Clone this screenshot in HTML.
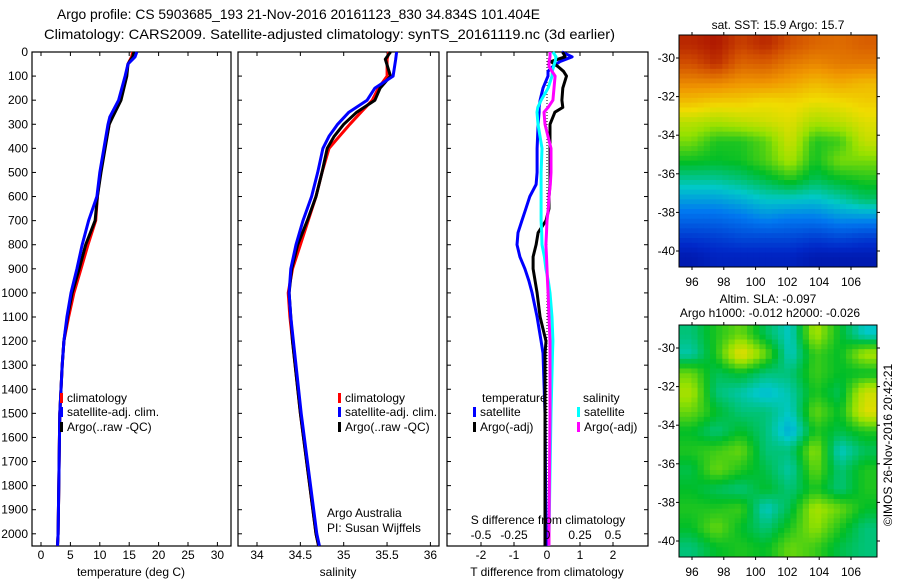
<!DOCTYPE html>
<html><head><meta charset="utf-8">
<style>
html,body{margin:0;padding:0;background:#fff;}
svg{display:block;font-family:"Liberation Sans",sans-serif;}
</style></head>
<body>
<svg id="fig" width="900" height="580" viewBox="0 0 900 580" xmlns="http://www.w3.org/2000/svg">
<rect width="900" height="580" fill="#fff"/>
<text x="57" y="19" font-size="14" textLength="483" lengthAdjust="spacingAndGlyphs">Argo profile: CS 5903685_193 21-Nov-2016 20161123_830 34.834S 101.404E</text>
<text x="44" y="39" font-size="14" textLength="571" lengthAdjust="spacingAndGlyphs">Climatology: CARS2009. Satellite-adjusted climatology: synTS_20161119.nc (3d earlier)</text>
<g id="layer"></g>
</svg>
<script>
// ---------- Data ----------
const depthT = [0,20,50,100,200,270,300,400,500,600,700,800,900,1000,1100,1200,1300,1500,2000,2050];
const tempClim = [15.6,15.4,14.8,14.4,13.5,12.0,11.6,10.8,10.1,9.6,9.3,8.0,6.8,5.6,4.7,3.9,3.6,3.2,2.9,2.8];
const tempSat  = [16.3,16.0,14.8,14.3,13.2,11.7,11.4,10.7,10.0,9.5,8.1,7.0,6.1,5.1,4.4,3.9,3.6,3.2,2.9,2.8];
const tempArgo = [15.8,15.6,14.8,14.6,13.6,12.2,11.6,10.9,10.2,9.6,9.2,7.6,6.5,5.3,4.5,3.9,3.6,3.2,2.9,2.8];

const depthS = [0,30,100,150,200,250,300,350,400,500,600,700,800,900,1000,1100,1200,1500,2000,2050];
const salClim = [35.52,35.50,35.50,35.40,35.33,35.20,35.07,34.95,34.83,34.75,34.68,34.59,34.50,34.41,34.36,34.38,34.41,34.50,34.68,34.71];
const salSat  = [35.61,35.60,35.57,35.36,35.27,35.06,34.93,34.83,34.76,34.70,34.63,34.53,34.45,34.39,34.37,34.39,34.42,34.51,34.69,34.72];
const salArgo = [35.54,35.48,35.54,35.42,35.36,35.15,35.00,34.89,34.81,34.75,34.68,34.58,34.47,34.40,34.37,34.39,34.41,34.50,34.68,34.71];

const depthD = [0,20,40,60,80,100,150,200,230,250,300,400,500,550,600,650,700,750,800,850,900,950,1000,1100,1200,1250,1500,2000,2050];
const tdiffSat  = [0.45,0.76,0.39,0.18,0.03,0.03,-0.12,-0.21,-0.24,-0.24,-0.27,-0.30,-0.30,-0.33,-0.52,-0.64,-0.76,-0.88,-0.91,-0.82,-0.67,-0.55,-0.45,-0.30,-0.18,-0.12,-0.06,-0.03,-0.03];
const tdiffArgo = [0.48,0.55,0.12,0.33,0.50,0.59,0.48,0.45,0.48,0.24,0.09,0.09,0.09,0.09,0.06,0.06,-0.03,-0.27,-0.33,-0.42,-0.42,-0.36,-0.30,-0.21,-0.03,-0.06,-0.06,-0.06,-0.06];
const sdiffSat  = [0.045,0.068,0.061,0.050,0.040,0.038,0.008,-0.045,-0.070,-0.076,-0.068,-0.038,-0.045,-0.045,-0.045,-0.045,-0.045,-0.040,-0.038,-0.020,-0.008,0.010,0.023,0.038,0.045,0.042,0.030,0.015,0.015];
const sdiffArgo = [0.023,0.023,0.015,0.015,0.038,0.061,0.053,0.045,0.008,-0.023,-0.015,0.030,0.030,0.025,0.015,0.010,0.000,-0.004,-0.008,-0.004,0.000,0.004,0.008,0.015,0.023,0.023,0.023,0.015,0.015];

const depthTicks = [0,100,200,300,400,500,600,700,800,900,1000,1100,1200,1300,1400,1500,1600,1700,1800,1900,2000];
const tempTicks = [0,5,10,15,20,25,30];
const salTicks = [34,34.5,35,35.5,36];
const salTickLabels = ["34","34.5","35","35.5","36"];
const tdiffTicks = [-2,-1,0,1,2];
const sdiffTicks = [-0.5,-0.25,0,0.25,0.5];
const sdiffTickLabels = ["-0.5","-0.25","0","0.25","0.5"];
const lonTicks = [96,98,100,102,104,106];
const latTicks = [-30,-32,-34,-36,-38,-40];

// SST map grid (colormap fraction, rows north->south)
const sstGrid = [
[0.95,0.97,0.92,0.95,0.90,0.87,0.86,0.88],
[0.90,0.94,0.87,0.88,0.84,0.82,0.84,0.84],
[0.82,0.82,0.80,0.80,0.78,0.75,0.77,0.75],
[0.74,0.72,0.72,0.70,0.71,0.69,0.70,0.72],
[0.64,0.62,0.64,0.66,0.68,0.62,0.64,0.68],
[0.58,0.52,0.52,0.56,0.66,0.52,0.54,0.65],
[0.51,0.50,0.51,0.55,0.62,0.51,0.58,0.58],
[0.43,0.43,0.45,0.48,0.52,0.47,0.50,0.52],
[0.35,0.35,0.37,0.40,0.40,0.39,0.42,0.46],
[0.27,0.27,0.29,0.32,0.30,0.30,0.33,0.33],
[0.18,0.19,0.21,0.21,0.21,0.19,0.21,0.19],
[0.10,0.13,0.13,0.13,0.13,0.10,0.10,0.10]];
const slaGrid = [
[0.45,0.52,0.57,0.47,0.40,0.62,0.50,0.40],
[0.42,0.52,0.70,0.57,0.40,0.54,0.50,0.62],
[0.57,0.47,0.50,0.45,0.45,0.54,0.50,0.50],
[0.62,0.45,0.42,0.38,0.42,0.52,0.47,0.66],
[0.57,0.50,0.45,0.45,0.40,0.57,0.50,0.68],
[0.50,0.45,0.50,0.45,0.36,0.52,0.48,0.52],
[0.52,0.54,0.57,0.45,0.45,0.60,0.40,0.47],
[0.48,0.57,0.52,0.48,0.42,0.57,0.45,0.52],
[0.50,0.47,0.45,0.50,0.45,0.52,0.45,0.52],
[0.52,0.52,0.54,0.40,0.48,0.62,0.57,0.50],
[0.50,0.57,0.50,0.45,0.52,0.60,0.52,0.45],
[0.45,0.50,0.52,0.50,0.57,0.54,0.48,0.45]];

// ---------- Helpers ----------
const NS='http://www.w3.org/2000/svg';
const layer=document.getElementById('layer');
function mk(tag,attrs,parent){const e=document.createElementNS(NS,tag);for(const k in attrs)e.setAttribute(k,attrs[k]);(parent||layer).appendChild(e);return e;}
function txt(x,y,s,size,anchor,parent){const t=mk('text',{x:x,y:y,'font-size':size||12,'text-anchor':anchor||'start'},parent);t.textContent=s;return t;}

const PT=52, PB=546;
const yD=d=>PT+d*0.2409;
const xT=v=>41+v*5.88;
const xS=v=>257+(v-34)*86.7;
const xTD=v=>547+v*33;
const xSD=v=>547+v*132;

function panel(x0,x1,name){
  const g=mk('g',{});
  
  
  mk('rect',{x:x0,y:PT,width:x1-x0,height:PB-PT,fill:'none',stroke:'#000','stroke-width':1.2},g);
  for(const d of depthTicks){const y=yD(d);
    const l=mk('line',{x1:x0,x2:x0+4,y1:y,y2:y,stroke:'#000'},g);
    
    
  }
  return g;
}
function series(g,depths,vals,xf,color,name,w){
  const pts=[];
  for(let i=0;i<depths.length;i++){
    pts.push(xf(vals[i]).toFixed(1)+','+yD(depths[i]).toFixed(1));
  }
  const p=mk('polyline',{points:pts.join(' '),fill:'none',stroke:color,'stroke-width':w||3,'stroke-linejoin':'round'},g);
  
  
}
function legend(g,x,y,color,label,name){
  const r=mk('rect',{x:x,y:y-9,width:3,height:10,fill:color},g);
  
  
  const t=txt(x+7,y,label,12,'start',g);
  
  
}

// ---------- Panel 1: temperature ----------
const g1=panel(32,231,'temperature-panel');
for(const d of depthTicks){const t=txt(28,yD(d)+4,String(d),12,'end',g1);
  
  }
for(const v of tempTicks){const x=xT(v);
  mk('line',{x1:x,x2:x,y1:PB,y2:PB-4,stroke:'#000'},g1);
  mk('line',{x1:x,x2:x,y1:PT,y2:PT+4,stroke:'#000'},g1);
  const t=txt(x,559,String(v),12,'middle',g1);
  
  }
series(g1,depthT,tempClim,xT,'#f00','temperature-climatology-line');
series(g1,depthT,tempArgo,xT,'#000','temperature-argo-line');
series(g1,depthT,tempSat,xT,'#00f','temperature-satellite-line');
legend(g1,60,402,'#f00','climatology','legend-climatology');
legend(g1,60,416,'#00f','satellite-adj. clim.','legend-satellite');
legend(g1,60,431,'#000','Argo(..raw -QC)','legend-argo');
{const t=txt(131,576,'temperature (deg C)',12,'middle',g1);

}

// ---------- Panel 2: salinity ----------
const g2=panel(238,439,'salinity-panel');
salTicks.forEach((v,i)=>{const x=xS(v);
  mk('line',{x1:x,x2:x,y1:PB,y2:PB-4,stroke:'#000'},g2);
  mk('line',{x1:x,x2:x,y1:PT,y2:PT+4,stroke:'#000'},g2);
  const t=txt(x,559,salTickLabels[i],12,'middle',g2);
  
  });
series(g2,depthS,salClim,xS,'#f00','salinity-climatology-line');
series(g2,depthS,salArgo,xS,'#000','salinity-argo-line');
series(g2,depthS,salSat,xS,'#00f','salinity-satellite-line');
legend(g2,338,402,'#f00','climatology','legend-climatology');
legend(g2,338,416,'#00f','satellite-adj. clim.','legend-satellite');
legend(g2,338,431,'#000','Argo(..raw -QC)','legend-argo');
{let t=txt(327,517,'Argo Australia',12,'start',g2);


t=txt(327,532,'PI: Susan Wijffels',12,'start',g2);


t=txt(338,576,'salinity',12,'middle',g2);

}

// ---------- Panel 3: differences ----------
const g3=panel(447,648,'difference-panel');
for(const d of depthTicks){const y=yD(d);mk('line',{x1:644,x2:648,y1:y,y2:y,stroke:'#000'},g3);}
tdiffTicks.forEach(v=>{const x=xTD(v);
  mk('line',{x1:x,x2:x,y1:PB,y2:PB-4,stroke:'#000'},g3);
  mk('line',{x1:x,x2:x,y1:PT,y2:PT+4,stroke:'#000'},g3);
  const t=txt(x,559,String(v),12,'middle',g3);
  
  });
{const z=mk('line',{x1:xTD(0),x2:xTD(0),y1:PT,y2:PB,stroke:'#000','stroke-dasharray':'1,2'},g3);

}
series(g3,depthD,tdiffSat,xTD,'#00f','tdiff-satellite-line');
series(g3,depthD,tdiffArgo,xTD,'#000','tdiff-argo-line');
series(g3,depthD,sdiffSat,xSD,'#0ff','sdiff-satellite-line');
series(g3,depthD,sdiffArgo,xSD,'#f0f','sdiff-argo-line');
{const t=txt(482,402,'temperature',12,'start',g3);


const s=txt(583,402,'salinity',12,'start',g3);

}
legend(g3,473,416,'#00f','satellite','legend-temp-satellite');
legend(g3,473,431,'#000','Argo(-adj)','legend-temp-argo');
legend(g3,577,416,'#0ff','satellite','legend-sal-satellite');
legend(g3,577,431,'#f0f','Argo(-adj)','legend-sal-argo');
{let t=txt(548,524,'S difference from climatology',12,'middle',g3);


sdiffTicks.forEach((v,i)=>{const l=txt(xSD(v),539,sdiffTickLabels[i],12,'middle',g3);
  
  });
t=txt(547,576,'T difference from climatology',12,'middle',g3);

}

// ---------- Maps ----------
const cmapStops=[[0,[0,0,130]],[0.15,[0,40,200]],[0.3,[0,120,240]],[0.4,[0,200,200]],[0.5,[0,190,40]],[0.6,[150,225,0]],[0.7,[240,220,0]],[0.8,[240,150,0]],[0.9,[210,80,0]],[1,[160,0,0]]];
function cmap(v){
  v=Math.max(0,Math.min(1,v));
  for(let i=1;i<cmapStops.length;i++){
    if(v<=cmapStops[i][0]){const a=cmapStops[i-1],b=cmapStops[i];const f=(v-a[0])/(b[0]-a[0]);
      const c=a[1].map((x,k)=>Math.round(x+(b[1][k]-x)*f));return `rgb(${c[0]},${c[1]},${c[2]})`;}
  }
  return 'rgb(160,0,0)';
}
function sample(grid,fr,fc){
  const R=grid.length-1,C=grid[0].length-1;
  fr=Math.max(0,Math.min(R,fr));fc=Math.max(0,Math.min(C,fc));
  const r0=Math.floor(fr),c0=Math.floor(fc),r1=Math.min(R,r0+1),c1=Math.min(C,c0+1);
  const dr=fr-r0,dc=fc-c0;
  return grid[r0][c0]*(1-dr)*(1-dc)+grid[r0][c1]*(1-dr)*dc+grid[r1][c0]*dr*(1-dc)+grid[r1][c1]*dr*dc;
}
const MX0=679,MX1=877;
const lonX=l=>692+(l-96)*15.9;
function map(top,bottom,grid,name){
  const g=mk('g',{});
  
  
  const latY=l=>(top+23)+(-30-l)*19.3;
  const rows=grid.length, cols=grid[0].length, up=4;
  const nr=rows*up, nc=cols*up;
  const cw=(MX1-MX0)/nc, ch=(bottom-top)/nr;
  for(let r=0;r<nr;r++)for(let c=0;c<nc;c++){
    const v=sample(grid,(r+0.5)/up-0.5,(c+0.5)/up-0.5);
    const cell=mk('rect',{x:(MX0+c*cw).toFixed(2),y:(top+r*ch).toFixed(2),width:(cw+0.5).toFixed(2),height:(ch+0.5).toFixed(2),fill:cmap(v)},g);
    
    
  }
  mk('rect',{x:MX0,y:top,width:MX1-MX0,height:bottom-top,fill:'none',stroke:'#000'},g);
  for(const l of lonTicks){const x=lonX(l);
    mk('line',{x1:x,x2:x,y1:top,y2:top-3,stroke:'#000'},g);
    mk('line',{x1:x,x2:x,y1:bottom,y2:bottom+3,stroke:'#000'},g);
    const t=txt(x,bottom+19,String(l),12,'middle',g);
    
    }
  for(const l of latTicks){const y=latY(l);
    mk('line',{x1:MX0,x2:MX0-3,y1:y,y2:y,stroke:'#000'},g);
    mk('line',{x1:MX1,x2:MX1+3,y1:y,y2:y,stroke:'#000'},g);
    const t=txt(675,y+4,String(l),12,'end',g);
    
    }
  return g;
}
const m1=map(35,267,sstGrid,'sst-map');
{const t=txt(778,29,'sat. SST: 15.9 Argo: 15.7',12,'middle',m1);

}
const m2=map(325,557,slaGrid,'sla-map');
{let t=txt(768,303,'Altim. SLA: -0.097',12,'middle',m2);


t=txt(770,317,'Argo h1000: -0.012 h2000: -0.026',12,'middle',m2);


t=txt(0,0,'©IMOS 26-Nov-2016 20:42:21',12,'middle',m2);
t.setAttribute('transform','translate(892,445) rotate(-90)');

}
</script>
</body></html>
